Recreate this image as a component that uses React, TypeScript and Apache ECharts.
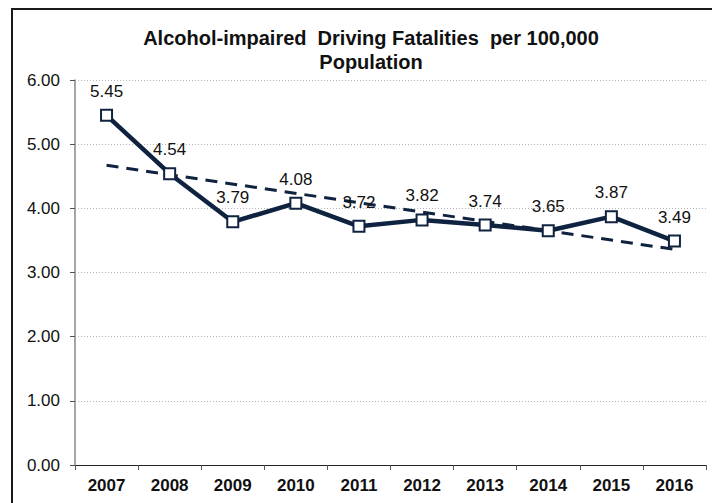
import React, { useEffect, useRef } from "react";
import * as echarts from "echarts";

const years = ["2007", "2008", "2009", "2010", "2011", "2012", "2013", "2014", "2015", "2016"];
const fatalities = [5.45, 4.54, 3.79, 4.08, 3.72, 3.82, 3.74, 3.65, 3.87, 3.49];
const trendYears = ["2007", "2016"];
const trendValues = [4.67, 3.36];
const titleText = "Alcohol-impaired  Driving Fatalities  per 100,000\nPopulation";

export default function App() {
  const ref = useRef<HTMLDivElement>(null);
  useEffect(() => {
    if (!ref.current) return;
    const chart = echarts.init(ref.current, undefined, { renderer: "svg" });
    const navy = "#0f2340";
    chart.setOption({
      animation: false,
      backgroundColor: "#fff",
      textStyle: { fontFamily: "Liberation Sans, Arial, sans-serif" },
      title: {
        text: titleText,
        left: 366,
        textAlign: "center",
        top: 21,
        textStyle: { fontSize: 20, fontWeight: "bold", color: "#111", lineHeight: 24, fontFamily: "Liberation Sans, Arial, sans-serif" },
      },
      graphic: [
        {
          type: "rect",
          shape: { x: 12, y: 9, width: 720, height: 520 },
          style: { fill: "none", stroke: "#1a1a1a", lineWidth: 2 },
          silent: true,
        },
      ],
      grid: { left: 75, right: 6, top: 80, bottom: 38 },
      xAxis: {
        type: "category",
        data: years,
        boundaryGap: true,
        axisLine: { lineStyle: { color: "#222", width: 1 } },
        axisTick: { show: true, length: 5, lineStyle: { color: "#555" } },
        axisLabel: { fontSize: 17, fontWeight: "bold", color: "#111", margin: 12 },
      },
      yAxis: {
        type: "value",
        min: 0,
        max: 6,
        interval: 1,
        axisLine: { show: true, lineStyle: { color: "#888", width: 1.5 } },
        axisTick: { show: true, length: 5, lineStyle: { color: "#555" } },
        axisLabel: { fontSize: 17, color: "#111", margin: 15, formatter: (v: number) => v.toFixed(2) },
        splitLine: { lineStyle: { color: "#b5b5b5", type: [1, 2], width: 1 } },
      },
      series: [
        {
          type: "line",
          data: trendYears.map((y, i) => [y, trendValues[i]]),
          symbol: "none",
          lineStyle: { color: navy, width: 3, type: [12, 8] },
          z: 2,
        },
        {
          type: "line",
          data: fatalities,
          symbol: "rect",
          symbolSize: 11,
          lineStyle: { color: navy, width: 4.5 },
          itemStyle: { color: "#fff", borderColor: navy, borderWidth: 2 },
          label: {
            show: true,
            position: "top",
            distance: 9,
            fontSize: 17,
            color: "#111",
            formatter: (p: any) => Number(p.value).toFixed(2),
          },
          z: 3,
        },
      ],
    });
    return () => chart.dispose();
  }, []);
  return <div ref={ref} style={{ position: "fixed", left: 0, top: 0, width: 712, height: 503 }} />;
}
